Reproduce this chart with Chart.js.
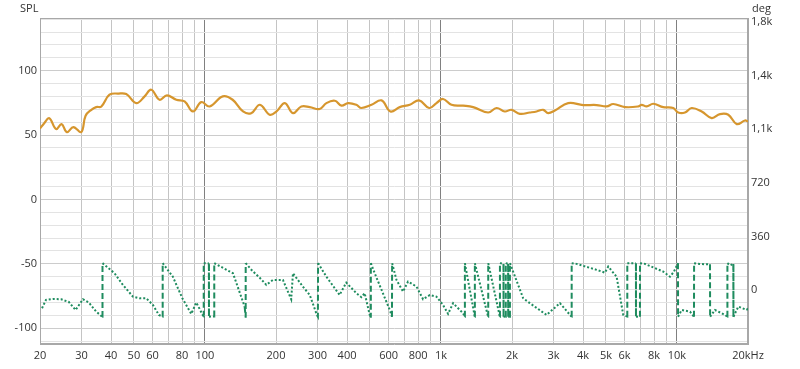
<!DOCTYPE html>
<html>
<head>
<meta charset="utf-8">
<script src="https://cdn.jsdelivr.net/npm/chart.js@4/dist/chart.umd.min.js"></script>
<style>
  html, body { margin: 0; padding: 0; background: #fff; }
  #wrap { width: 800px; height: 369px; }
</style>
</head>
<body>
<div id="wrap"><canvas id="chart" width="800" height="369"></canvas></div>
<script>
// SPL magnitude (Hz / dB)
const splFreq = [20, 20.8, 21.9, 23.4, 24.7, 26.0, 27.7, 29.9, 31.2, 33.0, 34.6, 36.4, 39.4, 43, 46.4,
  51.2, 55.5, 59.2, 64.2, 69, 75.6, 82, 88.9, 96.5, 104.6, 119, 131, 145, 157, 171, 188,
  201, 218, 236, 256, 278, 306, 327, 355, 379, 404, 438, 460, 508, 560, 611, 669, 738,
  808, 891, 957, 1021, 1108, 1241, 1369, 1584, 1720, 1864, 1991, 2159, 2380, 2542, 2711,
  2846, 3039, 3460, 4006, 4566, 5034, 5370, 6020, 6852, 7084, 7438, 7934, 8748, 9646,
  10128, 10812, 11542, 12728, 14036, 15224, 16504, 17914, 19424, 20000];
const splDb = [55, 59, 63, 54.6, 58.5, 52.3, 56.2, 52.3, 65, 69.6, 71.7, 72.2, 81.3, 82.2, 81.8,
  74.8, 80, 85.2, 77.4, 80.8, 77.4, 76.1, 68.3, 75.6, 72.2, 80, 77.4, 68.3, 67, 73.5, 65.8,
  68.3, 74.8, 67, 72.2, 71.7, 70.2, 74.8, 76.6, 72.8, 74.8, 73.5, 71, 73.5, 76.9, 68.3, 71.7, 73.5,
  76.9, 71, 74.8, 78, 73.5, 72.8, 71.7, 67.5, 71, 68.3, 69.6, 66.5, 67.5, 68.3, 69.6,
  67, 69.1, 74.8, 73.3, 73.3, 72.2, 74.1, 71.7, 72.2, 73.5, 72.2, 74.3, 71.7, 71,
  67.5, 67.5, 71, 68.3, 63.2, 66.3, 65.8, 58.5, 61.3, 60.6];

// wrapped phase (Hz / deg)
const phaseFreq = [20.4, 21.2, 22.7, 24.6, 26.5, 28.3, 30.4, 32.2, 34.6, 36.7, 36.8, 41.4, 44.9,
  49.5, 52.8, 56.4, 60.2, 63.8, 66.1, 66.2, 73.1, 80.2, 87.5, 91.9, 98.7, 98.8, 103.9, 104,
  109.4, 109.5, 131.4, 147.3, 148.7, 148.8, 157.3, 171, 182, 194, 214, 232, 236, 260, 278,
  298, 301, 301.5, 327, 372, 397, 438, 460, 475, 499, 504, 504.5, 524, 607, 620, 621, 648,
  691, 725, 788, 840, 897, 957, 1021, 1072, 1126, 1241, 1262, 1263, 1391, 1392, 1584, 1586,
  1776, 1778, 1840, 1842, 1880, 1882, 1925, 1927, 1958, 1960, 2230, 2380, 2802, 3191, 3577,
  3580, 3756, 4566, 4951, 5113, 5550, 5920, 6155, 6160, 6702, 6705, 6970, 6975, 7317, 8748,
  9340, 9710, 10100, 10110, 10470, 11357, 11806, 11820, 12500, 13200, 13804, 13820, 14494,
  15980, 16340, 16360, 16800, 17330, 17350, 18200, 19750, 20000];
const phaseDeg = [-123, -67, -61, -63, -81, -135, -63, -85, -146, -180, 180, 112, 34,
  -45, -56, -56, -101, -168, -180, 180, 89, -56, -161, -85, -180, 180, 178, -180,
  -178, 180, 112, -112, -180, 180, 135, 80, 34, 67, 67, -63, 112, 22, -34,
  -168, -180, 180, 89, -34, 49, -22, -49, -22, -168, -180, 180, 112, -135, -180, 180, 67,
  -11, 56, 22, -63, -34, -45, -101, -161, -89, -157, -180, 180, -180, 180, -180, 180,
  -180, 180, 175, -180, -180, 180, 175, -180, -180, 180, -56, -89, -168, -89, -180,
  180, 175, 135, 116, 157, 89, -168, -180, 180, 180, -180, -180, 180, 175, 123,
  89, 123, 180, -180, -135, -146, -180, 180, 175, 172, 172, -180, -135,
  -168, -180, 180, 165, 175, -180, -112, -135, -125];

// axis ticks
const xGrid = [20, 30, 40, 50, 60, 70, 80, 90, 100, 200, 300, 400, 500, 600, 700, 800, 900,
  1000, 2000, 3000, 4000, 5000, 6000, 7000, 8000, 9000, 10000, 20000];
const xLabelled = [20, 30, 40, 50, 60, 80, 100, 200, 300, 400, 600, 800, 1000, 2000, 3000,
  4000, 5000, 6000, 8000, 10000, 20000];
const xDecades = [100, 1000, 10000];
const splTicks = [-110, -100, -90, -80, -70, -60, -50, -40, -30, -20, -10, 0, 10, 20, 30, 40,
  50, 60, 70, 80, 90, 100, 110, 120, 130, 140];
const degTicks = [0, 360, 720, 1080, 1440, 1800];

Chart.defaults.font.family = '"Open Sans", "Noto Sans", sans-serif';
Chart.defaults.font.size = 11;
Chart.defaults.color = '#333';

const toPoints = (xs, ys) => xs.map((x, i) => ({ x: x, y: ys[i] }));

function freqLabel(v) {
  if (!xLabelled.includes(v)) return '';
  if (v === 20000) return '20kHz';
  if (v >= 1000) return (v / 1000) + 'k';
  return String(v);
}

function degLabel(v) {
  if (v >= 1000) return (v / 1000).toFixed(1).replace('.', ',') + 'k';
  return String(v);
}

// plot frame and the two axis captions
const frame = {
  id: 'frame',
  beforeDatasetsDraw(chart) {
    const { ctx, chartArea: a } = chart;
    ctx.save();
    ctx.strokeStyle = '#a8a8a8';
    ctx.lineWidth = 1;
    ctx.strokeRect(Math.round(a.left) + 0.5, Math.round(a.top) + 0.5,
      Math.round(a.right - a.left) - 1, Math.round(a.bottom - a.top) - 1);
    ctx.restore();
  },
  afterDraw(chart) {
    const ctx = chart.ctx;
    ctx.save();
    ctx.fillStyle = '#333';
    ctx.font = '11px "Open Sans", sans-serif';
    ctx.textAlign = 'left';
    ctx.textBaseline = 'alphabetic';
    ctx.fillText('SPL', 20, 12);
    ctx.fillText('deg', 752, 12);
    ctx.restore();
  }
};

new Chart(document.getElementById('chart'), {
  type: 'line',
  data: {
    datasets: [
      {
        label: 'SPL',
        data: toPoints(splFreq, splDb),
        yAxisID: 'y',
        borderColor: '#d6962e',
        borderWidth: 2.2,
        pointRadius: 0,
        tension: 0.4,
        fill: false
      },
      {
        label: 'Phase',
        data: toPoints(phaseFreq, phaseDeg),
        yAxisID: 'y2',
        borderColor: '#1f8c5f',
        borderWidth: 2,
        pointRadius: 0,
        tension: 0,
        fill: false,
        borderCapStyle: 'butt',
        segment: {
          // wrap jumps are dashed, the rest dotted
          borderDash: c => Math.abs(c.p1.x - c.p0.x) < 1.5 ? [6, 3] : [2, 2]
        }
      }
    ]
  },
  options: {
    responsive: false,
    animation: false,
    layout: { padding: { top: 18, left: 0, right: 0, bottom: 0 } },
    plugins: { legend: { display: false }, tooltip: { enabled: false } },
    scales: {
      x: {
        type: 'logarithmic',
        position: 'bottom',
        min: 20,
        max: 20000,
        afterBuildTicks: s => { s.ticks = xGrid.map(v => ({ value: v })); },
        afterFit: s => { s.height = 25; },
        ticks: { autoSkip: false, maxRotation: 0, padding: 5, callback: v => freqLabel(v) },
        grid: {
          drawTicks: false,
          color: c => xDecades.includes(c.tick && c.tick.value) ? '#808080' : '#c4c4c4'
        },
        border: { color: '#a8a8a8' }
      },
      y: {
        type: 'linear',
        position: 'left',
        min: -112.3,
        max: 140.9,
        afterBuildTicks: s => { s.ticks = splTicks.map(v => ({ value: v })); },
        afterFit: s => { s.width = 40; },
        ticks: { autoSkip: false, padding: 3, callback: v => (v % 50 === 0 ? String(v) : '') },
        grid: {
          drawTicks: false,
          color: c => (c.tick && c.tick.value % 50 === 0) ? '#cccccc' : '#e3e3e3'
        },
        border: { color: '#a8a8a8' }
      },
      y2: {
        type: 'linear',
        position: 'right',
        min: -363.6,
        max: 1828,
        afterBuildTicks: s => { s.ticks = degTicks.map(v => ({ value: v })); },
        afterFit: s => { s.width = 52; },
        ticks: { autoSkip: false, padding: 3, callback: v => degLabel(v) },
        grid: { drawOnChartArea: false, drawTicks: false },
        border: { color: '#a8a8a8' }
      }
    }
  },
  plugins: [frame]
});
</script>
</body>
</html>
